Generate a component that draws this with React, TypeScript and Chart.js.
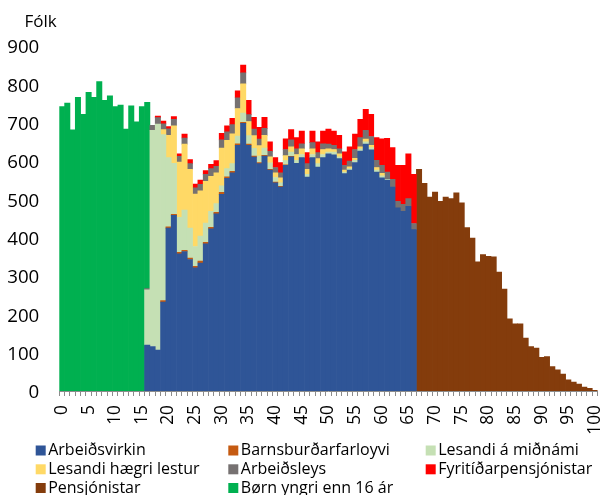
import { useEffect, useRef } from 'react';
import { Chart, registerables } from 'chart.js';

Chart.register(...registerables);

const AGE_COUNT = 101;
const ages: string[] = Array.from({ length: AGE_COUNT }, (_, i) => String(i));
const shownTickLabels = ['0', '5', '10', '15', '20', '25', '30', '35', '40', '45', '50', '55', '60', '65', '70', '75', '80', '85', '90', '95', '100'];
const yTicks = [0, 100, 200, 300, 400, 500, 600, 700, 800, 900];

// values per age, starting at the given age
const arbeidsvirkinStart = 16;
const arbeidsvirkin = [120, 116, 107, 232, 425, 458, 358, 364, 343, 321, 334, 384, 423, 462, 513, 555, 569, 641, 698, 641, 610, 593, 613, 576, 543, 532, 589, 611, 594, 609, 558, 609, 584, 609, 619, 616, 606, 567, 576, 596, 626, 644, 629, 571, 556, 550, 532, 478, 469, 482, 421];

const barnsburdStart = 19;
const barnsburd = [4, 3, 3, 4, 3, 4, 4, 5, 4, 4, 4, 5, 4, 4, 4, 3, 3, 3, 3, 2, 2, 2, 2, 1, 1];

const midnamStart = 16;
const midnam = [144, 564, 589, 433, 181, 133, 91, 105, 78, 52, 65, 50, 42, 23, 17, 21, 20, 20, 24, 22, 20, 17, 19, 17, 12, 9, 11, 11, 8, 8, 7, 8, 9, 8, 4, 7, 5, 4, 4, 6, 6, 6, 6, 5, 5, 2];

const haegriStart = 19;
const haegri = [13, 58, 98, 144, 172, 153, 137, 118, 109, 91, 80, 99, 74, 78, 72, 76, 37, 33, 27, 33, 16, 12, 13, 13, 14, 15, 15, 13, 15, 13, 13, 9, 7, 8, 5, 5, 5, 5, 7, 6, 7, 7];

const arbeidsleysStart = 16;
const arbeidsleys = [3, 13, 17, 15, 17, 17, 15, 16, 15, 16, 17, 18, 20, 17, 21, 22, 24, 28, 29, 18, 17, 17, 18, 14, 14, 13, 16, 18, 15, 13, 15, 16, 16, 15, 12, 11, 13, 13, 15, 23, 24, 23, 23, 19, 21, 19, 20, 17, 18, 20, 16];

const fyritidStart = 18;
const fyritid = [4, 7, 6, 7, 7, 10, 11, 10, 11, 10, 11, 15, 17, 16, 16, 18, 20, 37, 31, 31, 29, 25, 26, 27, 28, 27, 29, 33, 29, 30, 28, 33, 39, 37, 35, 35, 37, 40, 48, 55, 58, 59, 69, 88, 83, 94, 102, 117, 128];

const pensjonistarStart = 67;
const pensjonistar = [578, 542, 506, 519, 495, 506, 502, 517, 491, 426, 399, 337, 356, 351, 350, 310, 266, 188, 175, 175, 138, 116, 112, 88, 90, 64, 55, 44, 29, 23, 18, 10, 7, 2];

const bornStart = 0;
const born = [742, 751, 681, 766, 722, 779, 766, 807, 758, 770, 742, 746, 683, 744, 702, 742, 486];

function placeFrom(start: number, values: number[]): (number | null)[] {
  const out: (number | null)[] = new Array(AGE_COUNT).fill(null);
  values.forEach((v, i) => {
    out[start + i] = v;
  });
  return out;
}

const seriesDefs = [
  { label: 'Arbeiðsvirkin', color: '#2F5597', start: arbeidsvirkinStart, values: arbeidsvirkin },
  { label: 'Barnsburðarfarloyvi', color: '#C55A11', start: barnsburdStart, values: barnsburd },
  { label: 'Lesandi á miðnámi', color: '#C5E0B4', start: midnamStart, values: midnam },
  { label: 'Lesandi hægri lestur', color: '#FFD966', start: haegriStart, values: haegri },
  { label: 'Arbeiðsleys', color: '#767171', start: arbeidsleysStart, values: arbeidsleys },
  { label: 'Fyritíðarpensjónistar', color: '#FF0000', start: fyritidStart, values: fyritid },
  { label: 'Pensjónistar', color: '#843C0C', start: pensjonistarStart, values: pensjonistar },
  { label: 'Børn yngri enn 16 ár', color: '#00B050', start: bornStart, values: born },
];

const FONT = "'Open Sans', 'Noto Sans', sans-serif";

const legendPlugin = {
  id: 'gridLegend',
  afterDraw(chart: any) {
    const ctx = chart.ctx as CanvasRenderingContext2D;
    const colX = [35.7, 228.3, 425.7];
    const rowY = [450.5, 469.3, 488];
    ctx.save();
    ctx.font = `16px ${FONT}`;
    ctx.textBaseline = 'middle';
    ctx.textAlign = 'left';
    chart.data.datasets.forEach((ds: any, i: number) => {
      const c = i % 3;
      const r = Math.floor(i / 3);
      const x = colX[c];
      const y = rowY[r];
      ctx.fillStyle = ds.backgroundColor;
      ctx.fillRect(x, y - 5, 10, 10);
      ctx.fillStyle = '#000000';
      ctx.fillText(ds.label, x + 12.5, y);
    });
    // axis unit
    ctx.font = `17px ${FONT}`;
    ctx.textBaseline = 'alphabetic';
    ctx.fillText('Fólk', 24.5, 27);
    ctx.restore();
  },
};

export default function App() {
  const canvasRef = useRef<HTMLCanvasElement | null>(null);

  useEffect(() => {
    if (!canvasRef.current) return;
    const chart = new Chart(canvasRef.current, {
      type: 'bar',
      data: {
        labels: ages,
        datasets: seriesDefs.map((s) => ({
          label: s.label,
          data: placeFrom(s.start, s.values),
          backgroundColor: s.color,
          borderWidth: 0,
          barPercentage: 1,
          categoryPercentage: 1,
        })),
      },
      options: {
        responsive: true,
        maintainAspectRatio: false,
        animation: false,
        layout: { padding: { top: 46, right: 5.4, bottom: 60, left: 0 } },
        plugins: {
          legend: { display: false },
          tooltip: { enabled: false },
          title: { display: false },
        },
        scales: {
          x: {
            stacked: true,
            grid: {
              display: true,
              drawOnChartArea: false,
              drawTicks: true,
              tickLength: 5,
              color: '#8C8C8C',
              offset: true,
            },
            border: { display: true, color: '#8C8C8C', width: 1 },
            ticks: {
              autoSkip: false,
              minRotation: 90,
              maxRotation: 90,
              padding: 9,
              color: '#000000',
              font: { family: FONT, size: 17.3, lineHeight: 1 },
              callback: (_v: any, idx: number) => (shownTickLabels.includes(ages[idx]) ? ages[idx] : ''),
            },
            afterFit: (scale: any) => {
              scale.height = 44;
              scale.paddingLeft = 0;
              scale.paddingRight = 0;
            },
          },
          y: {
            stacked: true,
            min: 0,
            max: 900,
            afterBuildTicks: (scale: any) => {
              scale.ticks = yTicks.map((v) => ({ value: v }));
            },
            grid: { display: false, drawTicks: false },
            border: { display: false },
            ticks: {
              padding: 20,
              color: '#000000',
              labelOffset: 2,
              font: { family: FONT, size: 18.7 },
            },
            afterFit: (scale: any) => {
              scale.width = 59.3;
              scale.paddingTop = 0;
              scale.paddingBottom = 0;
            },
          },
        },
      },
      plugins: [legendPlugin],
    });
    return () => chart.destroy();
  }, []);

  return (
    <div style={{ position: 'absolute', left: 0, top: 0, width: 603, height: 495 }}>
      <canvas ref={canvasRef} />
    </div>
  );
}
